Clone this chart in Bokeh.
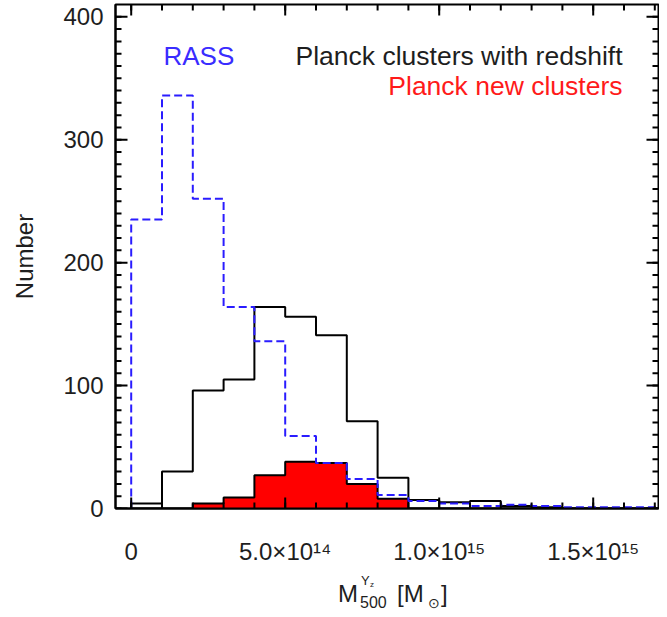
from bokeh.plotting import figure
from bokeh.models import Range1d, FixedTicker, Label, Div, BoxAnnotation
from bokeh.layouts import column
from bokeh.embed import file_html
from bokeh.resources import INLINE

# ---------------- data ----------------
bin_start = 0.0
bin_width = 1e14
rass = [235, 336, 252, 164, 136, 59, 37, 24, 11, 6, 4, 2, 3, 2, 1, 1, 1, 1]
planck_z = [4, 30, 96, 105, 164, 156, 141, 71, 25, 7, 5, 6, 2, 1, 0, 0, 0, 0]
planck_new = [0, 0, 4, 9, 27, 38, 37, 20, 8, 0, 0, 0, 0, 0, 0, 0, 0, 0]
x_major = [0, 5e14, 1e15, 1.5e15]
x_major_labels = ["0", "5.0×10¹⁴", "1.0×10¹⁵", "1.5×10¹⁵"]
y_major = [0, 100, 200, 300, 400]
y_minor = list(range(0, 401, 10))

nb = len(rass)
edges = [bin_start + i * bin_width for i in range(nb + 1)]


def step_xy(vals):
    xs, ys = [edges[0]], [0]
    for i, v in enumerate(vals):
        xs += [edges[i], edges[i + 1]]
        ys += [v, v]
    xs.append(edges[-1])
    ys.append(0)
    return xs, ys


# ---------------- layout ----------------
W, HF, HD = 659, 575, 34
FL, FR, FT, FB = 115, 658, 4, 508   # frame edges in canvas px
X0_PX = 130.7                        # canvas px of x = 0
PX_PER_BIN = 30.8
x_start = -(X0_PX - FL) / PX_PER_BIN * bin_width
x_end = (FR - X0_PX) / PX_PER_BIN * bin_width
y_end = 410
DX = bin_width / PX_PER_BIN          # data x per px
DY = y_end / (FB - FT)               # data y per px


def cx(px):  # canvas px -> data x
    return (px - X0_PX) * DX


def cy(py):  # canvas px -> data y
    return (FB - py) * DY


p = figure(width=W, height=HF, output_backend="svg", toolbar_location=None,
           x_range=Range1d(x_start, x_end), y_range=Range1d(0, y_end),
           min_border_left=FL, min_border_right=W - FR,
           min_border_top=FT, min_border_bottom=HF - FB,
           background_fill_color="white", border_fill_color="white")
p.xgrid.visible = False
p.ygrid.visible = False
p.outline_line_color = "black"
p.outline_line_width = 2

FONT = "Liberation Sans"
TXT = "#1e1e1e"

# red filled histogram (fill only)
rx, ry = step_xy(planck_new)
p.patch(rx, ry, fill_color="#ff0000", line_alpha=0)

# black strokes: red outline and black histogram
bx, by = step_xy(planck_z)
p.multi_line(xs=[rx, bx], ys=[ry, by], line_color="black", line_width=2)

# RASS dashed
sx, sy = step_xy(rass)
p.line(sx, sy, line_color="#2a1cff", line_width=2, line_dash="8 4")

# ---------------- inward tick marks on all four sides (box annotations) ----------------
x_minor = [e for e in edges if e <= x_end]


def tick_box(l, r, b, t):
    p.add_layout(BoxAnnotation(left=l, right=r, bottom=b, top=t,
                               fill_color="black", fill_alpha=1.0,
                               line_alpha=0, level="overlay"))


for tx, ln in ((x_major, 11), (x_minor, 6)):
    for t in tx:
        tick_box(t - DX, t + DX, 0, ln * DY)
        tick_box(t - DX, t + DX, y_end - ln * DY, y_end)
for ty, ln in ((y_major, 12), (y_minor, 6)):
    for t in ty:
        tick_box(x_start, x_start + ln * DX, t - DY, t + DY)
        tick_box(x_end - ln * DX, x_end, t - DY, t + DY)

# ---------------- axes ----------------
xt = FixedTicker(ticks=x_major, minor_ticks=x_minor)
yt = FixedTicker(ticks=y_major, minor_ticks=y_minor)


def style(ax):
    ax.axis_line_color = "black"
    ax.axis_line_width = 2
    ax.major_tick_in = 0
    ax.major_tick_out = 0
    ax.minor_tick_in = 0
    ax.minor_tick_out = 0
    ax.major_label_text_font = FONT
    ax.major_label_text_color = TXT
    ax.major_label_text_font_size = "24px"


xa = p.xaxis[0]
xa.ticker = xt
style(xa)
xa.major_label_overrides = {x_major[i]: x_major_labels[i] for i in range(len(x_major))}
xa.major_label_standoff = 29

ya = p.yaxis[0]
ya.ticker = yt
style(ya)
ya.major_label_standoff = 12
ya.axis_label = "Number"
ya.axis_label_text_font = FONT
ya.axis_label_text_font_style = "normal"
ya.axis_label_text_font_size = "24px"
ya.axis_label_text_color = TXT
ya.axis_label_standoff = 22

# ---------------- legend texts ----------------
p.add_layout(Label(x=cx(163), y=cy(55), text="RASS", text_align="left",
                   text_baseline="alphabetic", text_font=FONT,
                   text_font_size="26px", text_color="#3a2cff"))
p.add_layout(Label(x=cx(622), y=cy(55), text="Planck clusters with redshift",
                   text_align="right", text_baseline="alphabetic", text_font=FONT,
                   text_font_size="26.5px", text_color=TXT))
p.add_layout(Label(x=cx(622), y=cy(85), text="Planck new clusters",
                   text_align="right", text_baseline="alphabetic", text_font=FONT,
                   text_font_size="26.5px", text_color="#ff1a1a"))

# ---------------- x axis title (HTML, under the figure) ----------------
pieces = [
    ("M", 338, 602, 24),
    ("500", 360, 608, 16),
    ("Y", 361, 585, 13),
    ("z", 370, 588, 8),
    ("[M", 397, 602, 24),
    ("⊙", 428, 608, 14),
    ("]", 441, 602, 24),
]
spans = []
for t, px, base, fs in pieces:
    top = base - HF - 0.3465 * fs
    spans.append(
        f'<span style="position:absolute;left:{px}px;top:{top:.1f}px;'
        f'font-size:{fs}px;line-height:0;white-space:nowrap;">{t}</span>')
html = (f'<div style="position:relative;width:{W}px;height:{HD}px;'
        f"font-family:'{FONT}';color:{TXT};\">" + "".join(spans) + "</div>")
div = Div(text=html, width=W, height=HD, margin=0)

layout = column(p, div, spacing=0)
open("out.html", "w").write(file_html(layout, INLINE))
